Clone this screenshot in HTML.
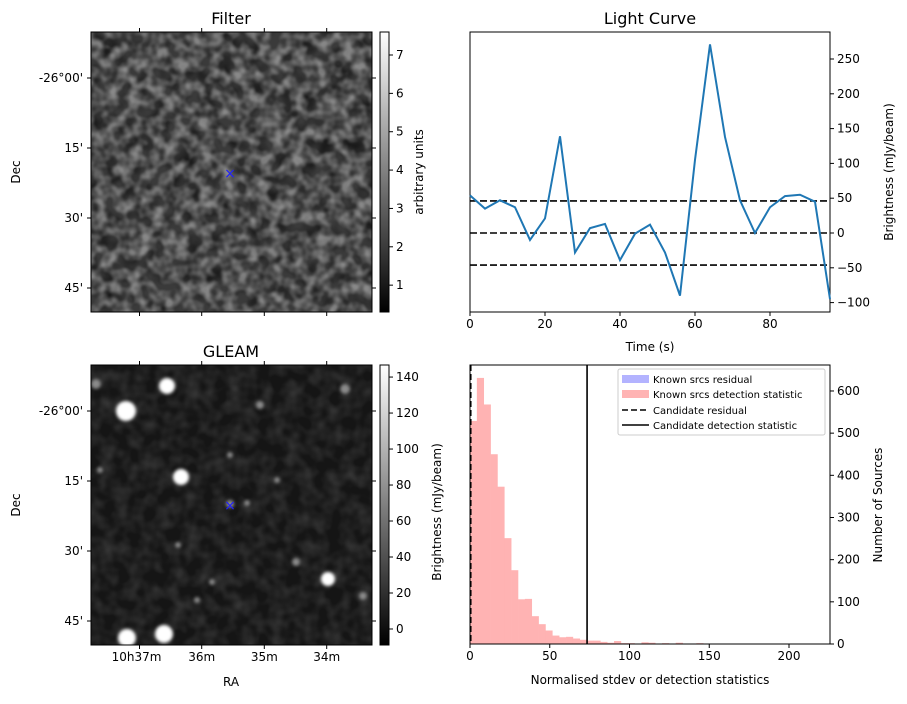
<!DOCTYPE html>
<html><head><meta charset="utf-8"><style>
body{margin:0;background:#fff;font-family:"Liberation Sans","DejaVu Sans",sans-serif}
svg text{font-family:"DejaVu Sans","Liberation Sans",sans-serif;fill:#000}
</style></head><body>
<svg id="fig" width="907" height="699" viewBox="0 0 907 699" xmlns="http://www.w3.org/2000/svg">
<defs>
<filter id="noiseF" x="0" y="0" width="100%" height="100%">
<feTurbulence type="fractalNoise" baseFrequency="0.085" numOctaves="2" seed="7"/>
<feColorMatrix type="matrix" values="0 0 0 0 1  0 0 0 0 1  0 0 0 0 1  2.6 0 0 0 -0.95"/>
<feGaussianBlur stdDeviation="0.8"/>
</filter>
<filter id="noiseF2" x="0" y="0" width="100%" height="100%">
<feTurbulence type="fractalNoise" baseFrequency="0.06" numOctaves="2" seed="21"/>
<feColorMatrix type="matrix" values="0 0 0 0 0  0 0 0 0 0  0 0 0 0 0  2.4 0 0 0 -0.9"/>
<feGaussianBlur stdDeviation="0.8"/>
</filter>
<filter id="noiseG" x="0" y="0" width="100%" height="100%">
<feTurbulence type="fractalNoise" baseFrequency="0.07" numOctaves="2" seed="3"/>
<feColorMatrix type="matrix" values="0 0 0 0 1  0 0 0 0 1  0 0 0 0 1  0.9 0 0 0 -0.3"/>
</filter>
<filter id="blur3"><feGaussianBlur stdDeviation="1.5"/></filter>
<linearGradient id="gray" x1="0" y1="1" x2="0" y2="0"><stop offset="0" stop-color="#000"/><stop offset="1" stop-color="#fff"/></linearGradient>
<clipPath id="clipB"><rect x="91" y="365" width="281" height="280"/></clipPath>
</defs>

<g>
<rect x="91" y="32" width="281" height="280" fill="#3a3a3a"/>
<rect x="91" y="32" width="281" height="280" fill="#000" filter="url(#noiseF2)" opacity="0.55"/>
<rect x="91" y="32" width="281" height="280" fill="#fff" filter="url(#noiseF)" opacity="0.4"/>
<rect x="91" y="32" width="281" height="280" fill="none" stroke="#000"/>
<text x="231" y="24" font-size="16" text-anchor="middle">Filter</text>
<text x="230" y="178" font-size="14" text-anchor="middle" style="fill:#2020ff">×</text>
</g>
<g id="filterAxes"></g>
<rect x="380" y="32" width="9" height="280" fill="url(#gray)" stroke="#000"/>
<g id="cbA"></g>
<text transform="translate(423,172) rotate(-90)" font-size="12" text-anchor="middle">arbitrary units</text>

<g>
<rect x="91" y="365" width="281" height="280" fill="#151515"/>
<g clip-path="url(#clipB)">
<rect x="91" y="365" width="281" height="280" fill="#fff" filter="url(#noiseG)" opacity="0.28"/>
<g id="srcs" filter="url(#blur3)"></g>
</g>
<rect x="91" y="365" width="281" height="280" fill="none" stroke="#000"/>
<text x="231" y="357" font-size="16" text-anchor="middle">GLEAM</text>
<text x="230" y="510" font-size="14" text-anchor="middle" style="fill:#2020ff">×</text>
</g>
<g id="gleamAxes"></g>
<rect x="380" y="365" width="9" height="280" fill="url(#gray)" stroke="#000"/>
<g id="cbB"></g>
<text transform="translate(441,512) rotate(-90)" font-size="12" text-anchor="middle">Brightness (mJy/beam)</text>

<text x="231" y="686" font-size="12" text-anchor="middle">RA</text>
<text transform="translate(20,172) rotate(-90)" font-size="12" text-anchor="middle">Dec</text>
<text transform="translate(20,505) rotate(-90)" font-size="12" text-anchor="middle">Dec</text>

<g id="lc"></g>
<text x="650" y="24" font-size="16" text-anchor="middle">Light Curve</text>
<text x="650" y="351" font-size="12" text-anchor="middle">Time (s)</text>
<text transform="translate(893,172) rotate(-90)" font-size="12" text-anchor="middle">Brightness (mJy/beam)</text>

<g id="hist"></g>
<text x="650" y="684" font-size="12" text-anchor="middle">Normalised stdev or detection statistics</text>
<text transform="translate(882,505) rotate(-90)" font-size="12" text-anchor="middle">Number of Sources</text>
<g>
<rect x="618" y="369" width="207" height="66" fill="#fff" stroke="#ccc" rx="2"/>
<rect x="622" y="375" width="27" height="8" fill="#b3b3ff"/><text x="653" y="383" font-size="10">Known srcs residual</text>
<rect x="622" y="390" width="27" height="8" fill="#ffb3b3"/><text x="653" y="398" font-size="10">Known srcs detection statistic</text>
<line x1="622" y1="410" x2="649" y2="410" stroke="#000" stroke-width="1.5" stroke-dasharray="6,3"/><text x="653" y="414" font-size="10">Candidate residual</text>
<line x1="622" y1="425" x2="649" y2="425" stroke="#000" stroke-width="1.5"/><text x="653" y="429" font-size="10">Candidate detection statistic</text>
</g>
</svg>
<script>
const NS='http://www.w3.org/2000/svg';
function mk(p,tag,at,txt){const e=document.createElementNS(NS,tag);for(const k in at)e.setAttribute(k,at[k]);if(txt!==undefined)e.textContent=txt;p.appendChild(e);return e;}

const lcTimes=[0,4,8,12,16,20,24,28,32,36,40,44,48,52,56,60,64,68,72,76,80,84,88,92,96];
const lcValues=[54,35,47,37,-10,21,139,-28,7,13,-39,-1,12,-28,-90,105,271,138,47,0,37,53,55,45,-95];
const lcThresholds=[46,0,-46];
const lcXTicks=[0,20,40,60,80];
const lcYTicks=[-100,-50,0,50,100,150,200,250];

const histBinWidth=4.3;
const histCounts=[529,631,568,450,373,251,175,106,107,66,47,32,20,16,17,13,10,8,8,5,3,7,2,2,0,4,3,1,2,0,3,0,1,2,0,0,0,1,0,0,0,0,0,0,0,1,0,0,0,1];
const candResidual=0.5;
const candDetection=73.4;
const histXTicks=[0,50,100,150,200];
const histYTicks=[0,100,200,300,400,500,600];

const raLabels=['10h37m','36m','35m','34m'];
const raTicks=[139.5,201.7,264.3,326.7];
const decLabels=["-26°00'","15'","30'","45'"];
const cbATicks=[1,2,3,4,5,6,7];
const cbBTicks=[0,20,40,60,80,100,120,140];
const gleamSources=[[126,411,10],[167,386,8],[181,477,8],[96,384,5],[328,579,7],[127,638,9],[164,634,9],[260,405,4],[345,389,5],[296,562,4],[230,504,4],[197,600,3],[363,596,4],[230,455,3],[247,503,3],[212,582,3],[277,480,3],[178,545,3],[100,470,3]];

(function(){
 const g=document.getElementById('lc');
 const x0=470,x1=830,y0=32,y1=312;
 const xs=t=>x0+(t-0)/96*(x1-x0);
 const ys=v=>233-v*0.696;
 mk(g,'rect',{x:x0,y:y0,width:x1-x0,height:y1-y0,fill:'none',stroke:'#000',});
 lcThresholds.forEach(v=>{const l=mk(g,'line',{x1:x0,x2:x1,y1:ys(v),y2:ys(v),stroke:'#000','stroke-width':1.6,'stroke-dasharray':'7,3'});
  
  });
 const pl=mk(g,'polyline',{points:lcTimes.map((t,i)=>xs(t)+','+ys(lcValues[i])).join(' '),fill:'none',stroke:'#1f77b4','stroke-width':2});
 
 
 lcXTicks.forEach(t=>{mk(g,'line',{x1:xs(t),x2:xs(t),y1:y1,y2:y1+4,stroke:'#000'});
  const tx=mk(g,'text',{x:xs(t),y:y1+16,'font-size':12,'text-anchor':'middle'},t);
  
  });
 lcYTicks.forEach(v=>{mk(g,'line',{x1:x1,x2:x1+4,y1:ys(v),y2:ys(v),stroke:'#000'});
  const tx=mk(g,'text',{x:x1+7,y:ys(v)+4,'font-size':12},v<0?'−'+(-v):v);
  
  });
})();

(function(){
 const g=document.getElementById('hist');
 const x0=470,x1=830,y0=365,y1=644;
 const xs=v=>x0+v*1.595;
 const ys=c=>y1-c*0.4217;
 histCounts.forEach((c,i)=>{if(!c)return;
  const r=mk(g,'rect',{x:xs(i*histBinWidth),y:ys(c),width:histBinWidth*1.595+0.3,height:y1-ys(c),fill:'#ffb3b3'});
  
  });
 const a=mk(g,'line',{x1:xs(candResidual),x2:xs(candResidual),y1:y0,y2:y1,stroke:'#000','stroke-width':1.5,'stroke-dasharray':'6,3'});
 
 
 const b=mk(g,'line',{x1:xs(candDetection),x2:xs(candDetection),y1:y0,y2:y1,stroke:'#000','stroke-width':1.6});
 
 
 mk(g,'rect',{x:x0,y:y0,width:x1-x0,height:y1-y0,fill:'none',stroke:'#000'});
 histXTicks.forEach(v=>{mk(g,'line',{x1:xs(v),x2:xs(v),y1:y1,y2:y1+4,stroke:'#000'});
  const t=mk(g,'text',{x:xs(v),y:y1+16,'font-size':12,'text-anchor':'middle'},v);
  
  });
 histYTicks.forEach(v=>{mk(g,'line',{x1:x1,x2:x1+4,y1:ys(v),y2:ys(v),stroke:'#000'});
  const t=mk(g,'text',{x:x1+7,y:ys(v)+4,'font-size':12},v);
  
  });
})();

function imgAxes(id,top,showRA){
 const g=document.getElementById(id);
 const decY=[top+46,top+116,top+186,top+256];
 raTicks.forEach((x,i)=>{mk(g,'line',{x1:x,x2:x,y1:top,y2:top-4,stroke:'#000'});mk(g,'line',{x1:x,x2:x,y1:top+280,y2:top+284,stroke:'#000'});
  if(showRA){const t=mk(g,'text',{x:x+(i==0?-3:0),y:top+296,'font-size':12,'text-anchor':'middle'},raLabels[i]);
   
   }});
 decY.forEach((y,i)=>{mk(g,'line',{x1:91,x2:87,y1:y,y2:y,stroke:'#000'});mk(g,'line',{x1:372,x2:376,y1:y,y2:y,stroke:'#000'});
  const t=mk(g,'text',{x:83,y:y+4,'font-size':12,'text-anchor':'end'},decLabels[i]);
  
  });
}
imgAxes('filterAxes',32,false);
imgAxes('gleamAxes',365,true);

function cbar(id,ticks,ytop,ybot,vmin,vmax){
 const g=document.getElementById(id);
 ticks.forEach(v=>{const y=ybot-(v-vmin)/(vmax-vmin)*(ybot-ytop);
  mk(g,'line',{x1:389,x2:393,y1:y,y2:y,stroke:'#000'});
  const t=mk(g,'text',{x:396,y:y+4,'font-size':12},v);
  
  });
}
cbar('cbA',cbATicks,32,312,0.3,7.6);
cbar('cbB',cbBTicks,365,645,-8.9,146.7);

const sg=document.getElementById('srcs');
gleamSources.forEach(s=>{const c=mk(sg,'circle',{cx:s[0],cy:s[1],r:s[2],fill:s[2]>=7?'#fff':'#8a8a8a'});
 
 });
</script>
</body></html>
